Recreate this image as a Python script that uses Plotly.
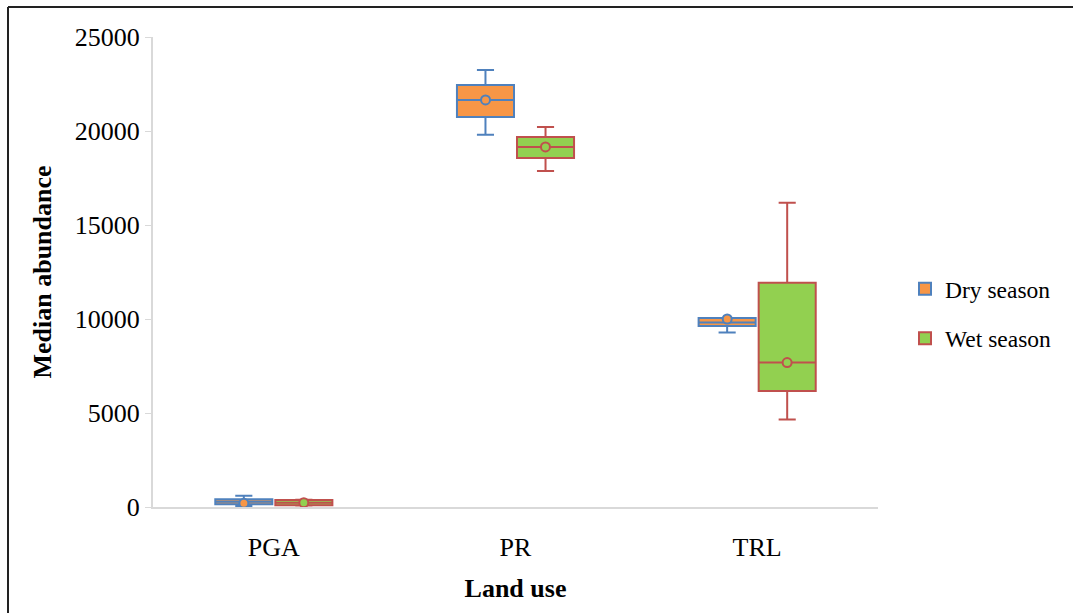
import plotly.graph_objects as go

# Land-use categories along the x axis
land_use = ["PGA", "PR", "TRL"]

# Dry season box statistics
dry_lower = [50, 19800, 9280]
dry_q1 = [144, 20750, 9630]
dry_median = [282, 21650, 9820]
dry_q3 = [410, 22450, 10050]
dry_upper = [600, 23250, 10050]
dry_mean = [197, 21650, 10000]

# Wet season box statistics
wet_lower = [80, 17870, 4660]
wet_q1 = [90, 18560, 6170]
wet_median = [229, 19150, 7680]
wet_q3 = [372, 19680, 11930]
wet_upper = [380, 20210, 16190]
wet_mean = [229, 19150, 7680]

y_ticks = [0, 5000, 10000, 15000, 20000, 25000]
y_tick_text = ["0", "5000", "10000", "15000", "20000", "25000"]

DRY_FILL, DRY_LINE = "#F79646", "#4F81BD"
WET_FILL, WET_LINE = "#92D050", "#C0504D"
FONT = "Liberation Serif, Times New Roman, serif"

x_pos = list(range(len(land_use)))
offset = 0.124  # half the slot width of one season within a category

fig = go.Figure()

fig.add_trace(go.Box(
    name="Dry season", x=x_pos, q1=dry_q1, median=dry_median, q3=dry_q3,
    lowerfence=dry_lower, upperfence=dry_upper,
    fillcolor=DRY_FILL, line=dict(color=DRY_LINE, width=2),
    whiskerwidth=0.3, boxpoints=False, legendgroup="dry",
))
fig.add_trace(go.Box(
    name="Wet season", x=x_pos, q1=wet_q1, median=wet_median, q3=wet_q3,
    lowerfence=wet_lower, upperfence=wet_upper,
    fillcolor=WET_FILL, line=dict(color=WET_LINE, width=2),
    whiskerwidth=0.3, boxpoints=False, legendgroup="wet",
))

# Mean markers drawn as circles over each box
fig.add_trace(go.Scatter(
    x=[x - offset for x in x_pos], y=dry_mean, mode="markers",
    marker=dict(symbol="circle", size=9, color=DRY_FILL,
                line=dict(color=DRY_LINE, width=2)),
    showlegend=False, hoverinfo="y",
))
fig.add_trace(go.Scatter(
    x=[x + offset for x in x_pos], y=wet_mean, mode="markers",
    marker=dict(symbol="circle", size=9, color=WET_FILL,
                line=dict(color=WET_LINE, width=2)),
    showlegend=False, hoverinfo="y",
))

L, R, T, B = 153, 195, 37, 106
W, H = 1073, 613
pw, ph = W - L - R, H - T - B

def px_x(p):
    return (p - L) / pw

def px_y(p):
    return (H - B - p) / ph

fig.update_layout(
    width=W, height=H,
    margin=dict(l=L, r=R, t=T, b=B, autoexpand=False),
    paper_bgcolor="white", plot_bgcolor="white",
    boxmode="group", boxgap=0.503, boxgroupgap=0.05,
    font=dict(family=FONT, color="#000000"),
    legend=dict(
        x=px_x(905), y=px_y(314), xanchor="left", yanchor="middle",
        font=dict(size=23.5, family=FONT), tracegroupgap=16,
        bgcolor="rgba(0,0,0,0)",
    ),
    xaxis=dict(
        range=[-0.5, 2.5], tickvals=x_pos, ticktext=land_use,
        showgrid=False, zeroline=False, showline=True,
        linecolor="#D9D9D9", linewidth=2, ticks="",
        tickfont=dict(size=26, family=FONT), ticklabelstandoff=16,
        title=dict(text="<b>Land use</b>", font=dict(size=26, family=FONT),
                   standoff=18),
    ),
    yaxis=dict(
        range=[0, 25000], tickvals=y_ticks, ticktext=y_tick_text,
        showgrid=False, zeroline=False, showline=True,
        linecolor="#D9D9D9", linewidth=2, ticks="outside", ticklen=6,
        tickcolor="#D9D9D9", tickwidth=1,
        tickfont=dict(size=26, family=FONT),
        title=dict(text="<b>Median abundance</b>",
                   font=dict(size=26, family=FONT), standoff=16),
    ),
    shapes=[
        dict(type="line", xref="paper", yref="paper",
             x0=px_x(8), x1=px_x(W + 5), y0=px_y(7), y1=px_y(7),
             line=dict(color="#222222", width=2)),
        dict(type="line", xref="paper", yref="paper",
             x0=px_x(8), x1=px_x(8), y0=px_y(7), y1=px_y(H + 5),
             line=dict(color="#222222", width=2)),
    ],
)

fig.write_html("out.html")
